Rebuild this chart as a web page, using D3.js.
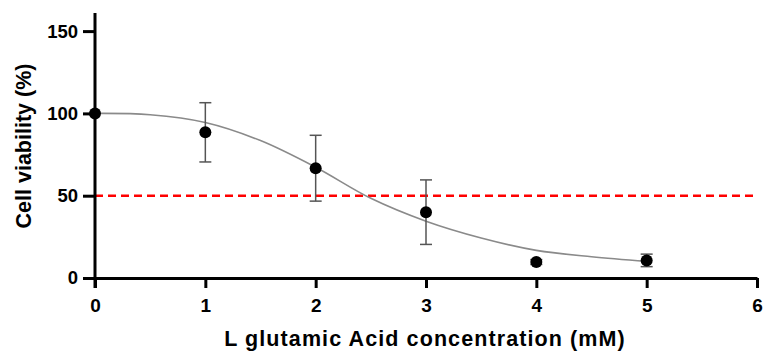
<!DOCTYPE html>
<html>
<head>
<meta charset="utf-8">
<script src="https://cdn.jsdelivr.net/npm/d3@7"></script>
<style>
  body { margin: 0; background: #fff; }
  svg { display: block; font-family: "Liberation Sans", Arial, sans-serif; }
</style>
</head>
<body>
<div id="chart"></div>
<script>
'use strict';

// measured points (mean, sd)
const concentrations = [0, 1, 2, 3, 4, 5];
const viability = [100, 88.5, 66.7, 40, 9.7, 10.7];
const viabilitySd = [0, 18, 20, 19.6, 1.5, 3.8];

// fitted curve
const curveX = [0, 0.5, 1, 1.5, 2, 2.5, 3, 3.5, 4, 4.5, 5];
const curveY = [100, 99.2, 94.5, 83.5, 67.3, 48.4, 34.5, 24.3, 16.8, 12.9, 10.1];

const xTicks = [0, 1, 2, 3, 4, 5, 6];
const yTicks = [0, 50, 100, 150];
const thresholdLine = 50;

const dimensions = {
  width: 763,
  height: 352,
  margin: { top: 13, right: 6, bottom: 74, left: 95 }
};
dimensions.ctrWidth = dimensions.width - dimensions.margin.left - dimensions.margin.right;
dimensions.ctrHeight = dimensions.height - dimensions.margin.top - dimensions.margin.bottom;

const svg = d3.select('#chart')
  .append('svg')
  .attr('width', dimensions.width)
  .attr('height', dimensions.height);

const chart_g = svg.append('g')
  .attr('transform', `translate(${dimensions.margin.left}, ${dimensions.margin.top})`);

const xScale = d3.scaleLinear()
  .domain([0, 6])
  .range([0, 662]);

const yScale = d3.scaleLinear()
  .domain([0, 161])
  .range([dimensions.ctrHeight, 0]);

// red dashed 50% line
chart_g.append('line')
  .attr('x1', xScale(0))
  .attr('x2', xScale(6))
  .attr('y1', yScale(thresholdLine))
  .attr('y2', yScale(thresholdLine))
  .attr('stroke', '#ff0000')
  .attr('stroke-width', 2.5)
  .attr('stroke-dasharray', '8,5');

// fitted curve
const line = d3.line()
  .x((d, i) => xScale(curveX[i]))
  .y(d => yScale(d))
  .curve(d3.curveCatmullRom);

chart_g.append('path')
  .datum(curveY)
  .attr('d', line)
  .attr('fill', 'none')
  .attr('stroke', '#8a8a8a')
  .attr('stroke-width', 1.6);

// error bars
const errG = chart_g.append('g')
  .attr('stroke', '#555')
  .attr('stroke-width', 1.5);
concentrations.forEach((c, i) => {
  if (viabilitySd[i] <= 0) return;
  const x = xScale(c);
  const hi = yScale(viability[i] + viabilitySd[i]);
  const lo = yScale(viability[i] - viabilitySd[i]);
  errG.append('line').attr('x1', x).attr('x2', x).attr('y1', hi).attr('y2', lo);
  errG.append('line').attr('x1', x - 6).attr('x2', x + 6).attr('y1', hi).attr('y2', hi);
  errG.append('line').attr('x1', x - 6).attr('x2', x + 6).attr('y1', lo).attr('y2', lo);
});

// axes
const xAxis = d3.axisBottom(xScale)
  .tickValues(xTicks)
  .tickFormat(d3.format('d'))
  .tickSize(10)
  .tickPadding(11)
  .tickSizeOuter(0);
const xAxisGroup = chart_g.append('g')
  .attr('transform', `translate(0, ${dimensions.ctrHeight})`)
  .call(xAxis);

const yAxis = d3.axisLeft(yScale)
  .tickValues(yTicks)
  .tickFormat(d3.format('d'))
  .tickSize(12)
  .tickPadding(5)
  .tickSizeOuter(0);
const yAxisGroup = chart_g.append('g')
  .call(yAxis);

[xAxisGroup, yAxisGroup].forEach(g => {
  g.select('.domain').attr('stroke', '#000').attr('stroke-width', 3);
  g.selectAll('.tick line').attr('stroke', '#000').attr('stroke-width', 3);
  g.selectAll('.tick text')
    .attr('fill', '#000')
    .style('font-family', '"Liberation Sans", Arial, sans-serif')
    .style('font-weight', 'bold');
});
xAxisGroup.selectAll('.tick text').style('font-size', '19px');
yAxisGroup.selectAll('.tick text').style('font-size', '18.5px');
// extend the y axis down to the x tick length
yAxisGroup.select('.domain').attr('d', `M0,0V${dimensions.ctrHeight + 10}`);

// points
chart_g.append('g')
  .selectAll('circle')
  .data(viability)
  .join('circle')
  .attr('cx', (d, i) => xScale(concentrations[i]))
  .attr('cy', d => yScale(d))
  .attr('r', 6)
  .attr('fill', '#000');

// axis titles
svg.append('text')
  .attr('x', 425)
  .attr('y', 346)
  .attr('text-anchor', 'middle')
  .style('font-size', '21.5px')
  .style('letter-spacing', '1.1px')
  .style('font-weight', 'bold')
  .text('L glutamic Acid concentration (mM)');

svg.append('text')
  .attr('transform', 'translate(31, 146) rotate(-90)')
  .attr('text-anchor', 'middle')
  .style('font-size', '21.5px')
  .style('font-weight', 'bold')
  .text('Cell viability (%)');
</script>
</body>
</html>
